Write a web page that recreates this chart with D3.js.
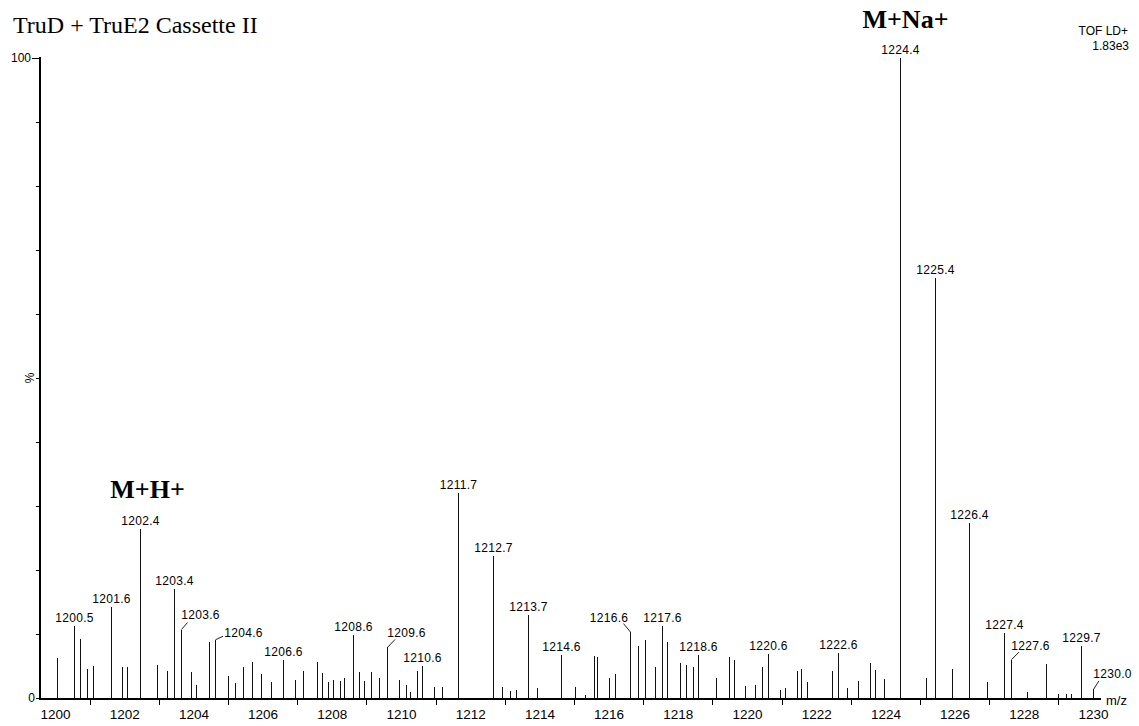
<!DOCTYPE html>
<html>
<head>
<meta charset="utf-8">
<script src="https://cdn.jsdelivr.net/npm/d3@7/dist/d3.min.js"></script>
<style>
  html, body { margin: 0; padding: 0; background: #fff; }
  svg { display: block; }
</style>
</head>
<body>
<svg id="chart" width="1139" height="726"></svg>
<script>
// ---------- DATA ----------
const title = "TruD + TruE2 Cassette II";
const instrument = ["TOF LD+", "1.83e3"];
const xDomain = [1200, 1230];
const yDomain = [0, 100];
const xTickLabels = [1200, 1202, 1204, 1206, 1208, 1210, 1212, 1214, 1216, 1218, 1220, 1222, 1224, 1226, 1228, 1230];
const xMinorTicks = [1201, 1203, 1205, 1207, 1209, 1211, 1213, 1215, 1217, 1219, 1221, 1223, 1225, 1227, 1229];
const yTicks = [0, 10, 20, 30, 40, 50, 60, 70, 80, 90, 100];
const yTickLabels = ["0", "100"];

const peakMz = [
  1200.05, 1200.54, 1200.71, 1200.92, 1201.09, 1201.62, 1201.94, 1202.08, 1202.47, 1202.96,
  1203.24, 1203.45, 1203.65, 1203.92, 1204.07, 1204.46, 1204.63, 1204.99, 1205.19, 1205.44,
  1205.68, 1205.94, 1206.23, 1206.58, 1206.94, 1207.17, 1207.57, 1207.72, 1207.89, 1208.03,
  1208.24, 1208.35, 1208.61, 1208.79, 1208.94, 1209.14, 1209.37, 1209.60, 1209.95, 1210.14,
  1210.27, 1210.47, 1210.62, 1210.94, 1211.18, 1211.65, 1212.66, 1212.92, 1213.15, 1213.32,
  1213.67, 1213.93, 1214.62, 1215.04, 1215.33, 1215.59, 1215.67, 1216.02, 1216.19, 1216.63,
  1216.86, 1217.04, 1217.33, 1217.53, 1217.70, 1218.05, 1218.23, 1218.43, 1218.58, 1219.09,
  1219.48, 1219.62, 1219.94, 1220.23, 1220.43, 1220.62, 1220.96, 1221.11, 1221.45, 1221.57,
  1221.74, 1222.45, 1222.62, 1222.88, 1223.20, 1223.55, 1223.69, 1223.96, 1224.42, 1225.17,
  1225.44, 1225.93, 1226.42, 1226.94, 1227.44, 1227.64, 1228.08, 1228.63, 1228.98, 1229.21,
  1229.36, 1229.65, 1229.99
];
const peakPct = [
  6.2, 11.25, 9.2, 4.5, 5.0, 14.2, 4.9, 4.9, 26.4, 5.1,
  4.2, 17.0, 10.7, 4.1, 2.0, 8.75, 9.1, 3.5, 2.3, 4.9,
  5.6, 3.7, 2.45, 6.0, 2.8, 4.2, 5.7, 3.9, 2.45, 2.8,
  2.6, 3.1, 9.8, 4.06, 2.6, 4.0, 3.1, 7.9, 2.8, 2.0,
  0.9, 4.2, 5.0, 1.7, 1.7, 32.0, 22.2, 1.7, 1.05, 1.2,
  12.9, 1.5, 6.7, 1.7, 0.4, 6.5, 6.35, 3.1, 3.7, 10.3,
  8.1, 9.06, 4.9, 11.25, 8.7, 5.4, 5.1, 4.8, 6.7, 3.2,
  6.35, 5.9, 1.8, 2.0, 4.8, 6.8, 1.2, 1.5, 4.2, 4.5,
  2.45, 4.2, 7.0, 1.5, 2.6, 5.4, 4.3, 2.9, 100, 3.2,
  65.6, 4.6, 27.4, 2.45, 10.1, 6.0, 0.9, 5.25, 0.7, 0.6,
  0.7, 8.2, 1.35
];
const peakLabels = [
  "1200.5", "1201.6", "1202.4", "1203.4", "1203.6", "1204.6", "1206.6", "1208.6", "1209.6",
  "1210.6", "1211.7", "1212.7", "1213.7", "1214.6", "1216.6", "1217.6", "1218.6", "1220.6",
  "1222.6", "1224.4", "1225.4", "1226.4", "1227.4", "1227.6", "1229.7", "1230.0"
];
const annotations = [
  { text: "M+H+", mz: "1202.4" },
  { text: "M+Na+", mz: "1224.4" }
];

// ---------- LAYOUT (positions / styles, not data) ----------
const W = 1139, H = 726;
const plot = { x0: 55, x1: 1093, yTop: 58, yBase: 698, axisX: 40, axisEnd: 1101 };
// leader-line labels: offsets from peak top (text centre x, baseline y, leader end)
const leaderLayout = {
  "1203.6": { tx: 19, ty: -11, lx: 6, ly: -7 },
  "1204.6": { tx: 28, ty: -2.5, lx: 7.5, ly: -3.5 },
  "1209.6": { tx: 19, ty: -10, lx: 7.5, ly: -8 },
  "1216.6": { tx: -21.5, ty: -10.5, lx: -7, ly: -8.5 },
  "1227.6": { tx: 19, ty: -9.5, lx: 7.5, ly: -7.5 },
  "1230.0": { tx: 19, ty: -11, lx: 5.5, ly: -8.5 }
};

const svg = d3.select("#chart");
const x = d3.scaleLinear().domain(xDomain).range([plot.x0, plot.x1]);
const y = d3.scaleLinear().domain(yDomain).range([plot.yBase, plot.yTop]);

const sans = "'Liberation Sans', Arial, sans-serif";
const serif = "'Liberation Serif', 'Times New Roman', serif";

// peaks
const peaks = peakMz.map((m, i) => ({ mz: m, pct: peakPct[i] }));
const px = d => Math.round(x(d.mz)) + 0.5;

svg.append("g").selectAll("line").data(peaks).join("line")
  .attr("x1", px).attr("x2", px)
  .attr("y1", y(0)).attr("y2", d => y(d.pct))
  .attr("stroke", "#111").attr("stroke-width", 1)
  .attr("shape-rendering", "crispEdges");

// x axis: labels at even values
const xAxisLabels = d3.axisBottom(x).tickValues(xTickLabels).tickSize(0).tickPadding(10)
  .tickFormat(d3.format("d"));
const gx = svg.append("g").attr("transform", `translate(0,${plot.yBase + 1})`).call(xAxisLabels);
gx.select(".domain").remove();
gx.selectAll("text").attr("font-family", sans).attr("font-size", 13.5).attr("fill", "#000")
  .attr("dy", "0.71em");

// x minor ticks
const xAxisTicks = d3.axisBottom(x).tickValues(xMinorTicks).tickSize(6).tickFormat("");
const gxt = svg.append("g").attr("transform", `translate(0,${plot.yBase + 1})`).call(xAxisTicks);
gxt.select(".domain").remove();
gxt.selectAll("line").attr("stroke", "#000").attr("shape-rendering", "crispEdges");

// x axis line
svg.append("line")
  .attr("x1", plot.axisX - 1).attr("x2", plot.axisEnd)
  .attr("y1", plot.yBase + 1).attr("y2", plot.yBase + 1)
  .attr("stroke", "#000").attr("stroke-width", 2);

svg.append("text").attr("x", plot.axisEnd + 5).attr("y", plot.yBase + 7)
  .attr("font-family", sans).attr("font-size", 13).text("m/z");

// y axis
const yAxis = d3.axisLeft(y).tickValues(yTicks).tickSize(3)
  .tickFormat(d => yTickLabels.includes(String(d)) ? String(d) : "");
const gy = svg.append("g").attr("transform", `translate(${plot.axisX - 1},0)`).call(yAxis);
gy.select(".domain").remove();
gy.selectAll("line").attr("stroke", "#000").attr("shape-rendering", "crispEdges");
gy.selectAll(".tick").filter(d => d === 100).select("line").attr("x2", -7);
gy.selectAll("text").attr("font-family", sans).attr("font-size", 12).attr("fill", "#000")
  .attr("x", d => d === 100 ? -8 : -4);

svg.append("line")
  .attr("x1", plot.axisX).attr("x2", plot.axisX)
  .attr("y1", plot.yTop - 1).attr("y2", plot.yBase + 2)
  .attr("stroke", "#000").attr("stroke-width", 2);

svg.append("text")
  .attr("transform", `translate(34,${y(50)}) rotate(-90)`)
  .attr("text-anchor", "middle")
  .attr("font-family", sans).attr("font-size", 12).text("%");

// peak labels
const nearest = v => {
  let best = 0, bd = Infinity;
  peaks.forEach((p, i) => { const dd = Math.abs(p.mz - v); if (dd < bd) { bd = dd; best = i; } });
  return peaks[best];
};
const lbl = svg.append("g");
peakLabels.forEach(t => {
  const p = nearest(+t);
  const tx = px(p), ty = y(p.pct);
  const L = leaderLayout[t];
  if (L) {
    lbl.append("line").attr("x1", tx).attr("y1", ty).attr("x2", tx + L.lx).attr("y2", ty + L.ly)
      .attr("stroke", "#222").attr("stroke-width", 1);
    lbl.append("text").attr("x", tx + L.tx).attr("y", ty + L.ty)
      .attr("text-anchor", "middle").attr("font-family", sans).attr("font-size", 12)
      .attr("letter-spacing", 0.3).text(t);
  } else {
    lbl.append("text").attr("x", tx).attr("y", ty - 4)
      .attr("text-anchor", "middle").attr("font-family", sans).attr("font-size", 12)
      .attr("letter-spacing", 0.3).text(t);
  }
});

// annotations
const annLayout = { "M+H+": { dx: 7, dy: -31 }, "M+Na+": { dx: 5, dy: -30 } };
annotations.forEach(a => {
  const p = nearest(+a.mz);
  const L = annLayout[a.text];
  svg.append("text").attr("x", px(p) + L.dx).attr("y", y(p.pct) + L.dy)
    .attr("text-anchor", "middle").attr("font-family", serif).attr("font-weight", "bold")
    .attr("font-size", 26).text(a.text);
});

// title
svg.append("text").attr("x", 13).attr("y", 33)
  .attr("font-family", serif).attr("font-size", 24).text(title);

// instrument info
svg.append("text").attr("x", 1128).attr("y", 35).attr("text-anchor", "end")
  .attr("font-family", sans).attr("font-size", 12).text(instrument[0]);
svg.append("text").attr("x", 1129).attr("y", 50).attr("text-anchor", "end")
  .attr("font-family", sans).attr("font-size", 12).text(instrument[1]);
</script>
</body>
</html>
